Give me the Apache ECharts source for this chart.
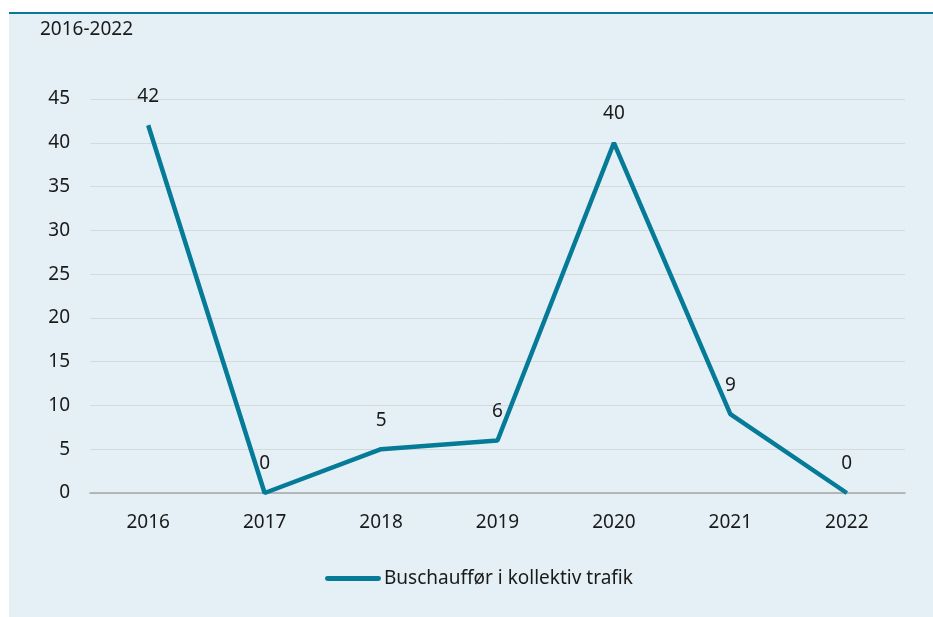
<!DOCTYPE html>
<html>
<head>
<meta charset="utf-8">
<script src="https://cdn.jsdelivr.net/npm/echarts@6/dist/echarts.min.js"></script>
<style>
  html, body { margin: 0; padding: 0; background: #fff; }
  #wrap { position: absolute; left: 9px; top: 12px; width: 924px; height: 605px; background: #e5f0f6; border-top: 2px solid #0a7896; box-sizing: border-box; }
  #chart { position: absolute; left: 0; top: 0; width: 933px; height: 617px; }
</style>
</head>
<body>
<div id="wrap"></div>
<div id="chart"></div>
<script>
const years = ['2016', '2017', '2018', '2019', '2020', '2021', '2022'];
const busDrivers = [42, 0, 5, 6, 40, 9, 0];
const seriesName = 'Buschauffør i kollektiv trafik';
const subtitle = '2016-2022';

const chart = echarts.init(document.getElementById('chart'));
const font = '"Noto Sans", "Open Sans", sans-serif';
const fs = 19;

chart.setOption({
  backgroundColor: 'transparent',
  textStyle: { fontFamily: font },
  title: {
    text: subtitle,
    left: 35,
    top: 15,
    textStyle: { fontSize: fs, fontWeight: 'normal', color: '#1a1a1a', fontFamily: font }
  },
  grid: { left: 90, right: 28, top: 99, bottom: 124 },
  xAxis: {
    type: 'category',
    data: years,
    boundaryGap: true,
    axisLine: { lineStyle: { color: '#a6a6a6', width: 1.5 } },
    axisTick: { show: false },
    axisLabel: { color: '#1a1a1a', fontSize: fs, margin: 20, fontFamily: font }
  },
  yAxis: {
    type: 'value',
    min: 0,
    max: 45,
    interval: 5,
    axisLine: { show: false },
    axisTick: { show: false },
    splitLine: { lineStyle: { color: '#d4d9dc', width: 1 } },
    axisLabel: { color: '#1a1a1a', fontSize: fs, margin: 20, fontFamily: font }
  },
  legend: {
    left: 320,
    top: 564,
    itemWidth: 56,
    itemHeight: 14,
    itemGap: 4,
    textStyle: { color: '#1a1a1a', fontSize: fs, fontFamily: font, padding: [0, 0, 0, -2] },
    data: [{ name: seriesName, icon: 'path://M2,4 L54,4 A2.5,2.5 0 0 1 54,9 L2,9 A2.5,2.5 0 0 1 2,4 Z' }]
  },
  series: [{
    name: seriesName,
    type: 'line',
    data: busDrivers,
    symbol: 'circle',
    symbolSize: 1,
    showSymbol: true,
    lineStyle: { color: '#057b98', width: 4.5 },
    itemStyle: { color: '#057b98' },
    label: {
      show: true,
      position: 'top',
      distance: 19,
      color: '#1a1a1a',
      fontSize: fs,
      fontFamily: font
    }
  }]
});
</script>
</body>
</html>
